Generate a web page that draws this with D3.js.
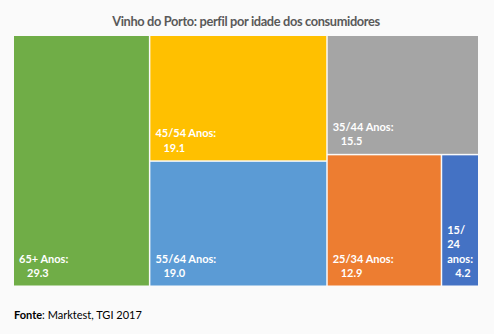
<!DOCTYPE html>
<html>
<head>
<meta charset="utf-8">
<script src="https://cdn.jsdelivr.net/npm/d3@7"></script>
<style>
  body { margin: 0; background: #fafafa; }
  svg { display: block; font-family: Lato, "Open Sans", sans-serif; }
</style>
</head>
<body>
<div id="chart"></div>
<script>
// age groups and share of port wine consumers (%)
const categories = ["65+ Anos", "45/54 Anos", "55/64 Anos", "35/44 Anos", "25/34 Anos", "15/24 anos"];
const values = [29.3, 19.1, 19.0, 15.5, 12.9, 4.2];
// how Excel grouped the tiles (indices into the arrays above)
const groups = [[0], [1, 2], [3, [4, 5]]];
const colors = ["#70ad47", "#ffc000", "#5b9bd5", "#a5a5a5", "#ed7d31", "#4472c4"];

const W = 494, H = 334;
const margin = {top: 36, right: 16, bottom: 48.5, left: 14};
const width = W - margin.left - margin.right,
      height = H - margin.top - margin.bottom;

const svg = d3.select("#chart").append("svg")
    .attr("width", W).attr("height", H);

svg.append("rect").attr("width", W).attr("height", H).attr("fill", "#fafafa");

svg.append("text")
    .attr("x", W / 2 - 1).attr("y", 26)
    .attr("text-anchor", "middle")
    .attr("font-size", 12.8).attr("font-weight", "bold")
    .attr("letter-spacing", -0.35)
    .attr("fill", "#595959")
    .text("Vinho do Porto: perfil por idade dos consumidores");

// build nested hierarchy from the groups
function build(g) {
    if (Array.isArray(g)) return {children: g.map(build)};
    return {i: g, name: categories[g], value: values[g]};
}
const root = d3.hierarchy(build(groups))
    .sum(d => d.children ? 0 : d.value);

d3.treemap()
    .tile(d3.treemapSliceDice)
    .size([width, height])
    .paddingInner(1.5)(root);

const g = svg.append("g")
    .attr("transform", "translate(" + margin.left + "," + margin.top + ")");

const leaf = g.selectAll("g.leaf")
    .data(root.leaves())
    .enter().append("g")
    .attr("class", "leaf");

leaf.append("rect")
    .attr("x", d => d.x0).attr("y", d => d.y0)
    .attr("width", d => d.x1 - d.x0)
    .attr("height", d => d.y1 - d.y0)
    .attr("fill", d => colors[d.data.i]);

// labels sit at the bottom left of each tile, wrapped if the tile is narrow
leaf.each(function(d) {
    const el = d3.select(this);
    const avail = d.x1 - d.x0 - 10;
    const tokens = (d.data.name + ":").split(/(?<=\/)| /);
    const probe = el.append("text").attr("font-size", 11).attr("font-weight", "bold");
    const lines = [];
    let cur = "";
    tokens.forEach(t => {
        const sep = cur === "" || cur.endsWith("/") ? "" : " ";
        const test = cur + sep + t;
        probe.text(test);
        if (cur !== "" && probe.node().getComputedTextLength() > avail) {
            lines.push(cur);
            cur = t;
        } else {
            cur = test;
        }
    });
    lines.push(cur);
    probe.remove();

    const lh = 14.5;
    const yLast = d.y1 - 8.5;
    const n = lines.length + 1;
    lines.forEach((l, k) => {
        el.append("text")
            .attr("x", d.x0 + 5)
            .attr("y", yLast - (n - 1 - k) * lh)
            .attr("font-size", 11).attr("font-weight", "bold")
            .attr("fill", "#fff")
            .text(l);
    });
    el.append("text")
        .attr("x", d.x0 + 13)
        .attr("y", yLast)
        .attr("font-size", 11).attr("font-weight", "bold")
        .attr("fill", "#fff")
        .text(d3.format(".1f")(d.data.value));
});

const src = svg.append("text")
    .attr("x", 14).attr("y", 319)
    .attr("font-size", 11).attr("fill", "#000");
src.append("tspan").attr("font-weight", "bold").text("Fonte");
src.append("tspan").text(": Marktest, TGI 2017");
</script>
</body>
</html>
